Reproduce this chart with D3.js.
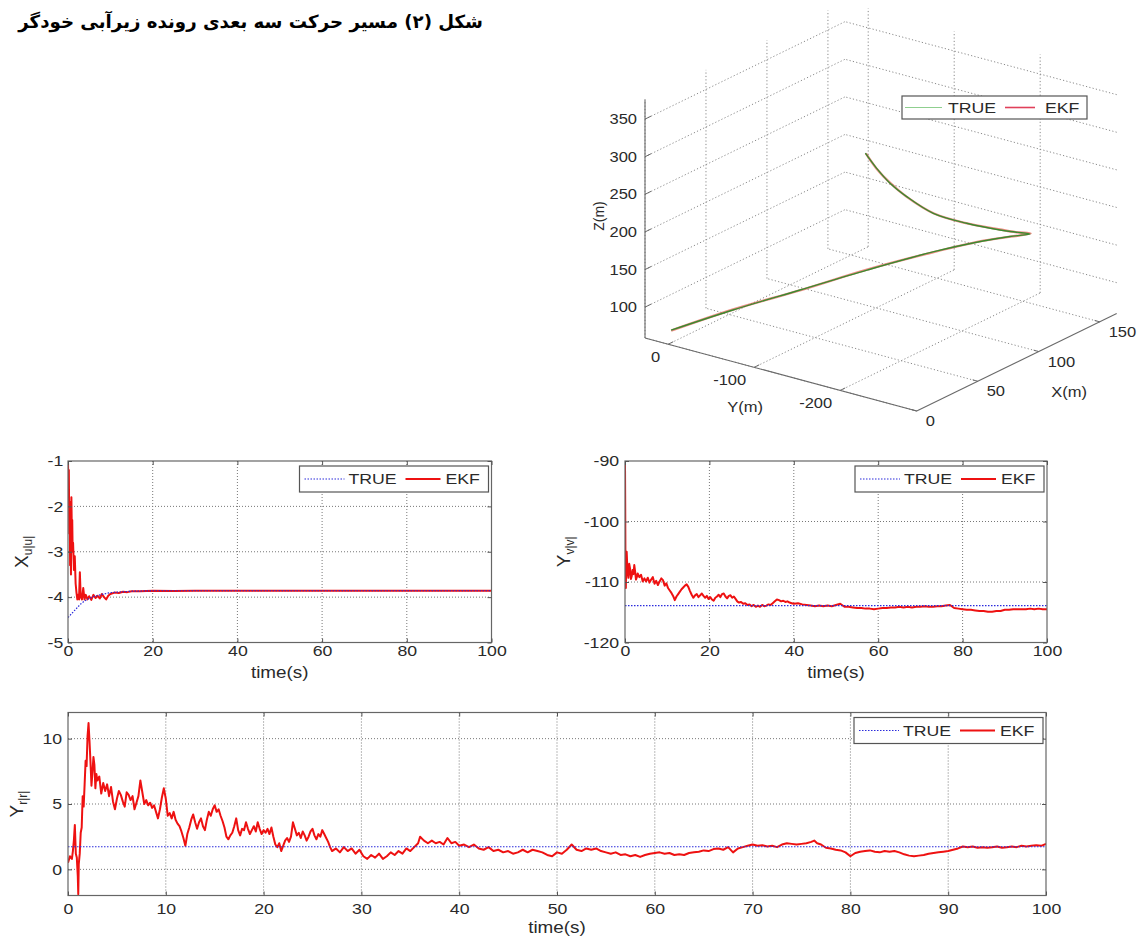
<!DOCTYPE html>
<html><head><meta charset="utf-8">
<script src="https://cdn.jsdelivr.net/npm/d3@7/dist/d3.min.js"></script>
<style>
html,body{margin:0;padding:0;background:#fff;}
svg{display:block;}
text{font-family:"Liberation Sans",Arial,sans-serif;fill:#2a2a2a;}
</style></head><body>
<svg id="chart" width="1145" height="938"></svg>
<script>
// ---------------- DATA ----------------
const titleText = "شکل (۲) مسیر حرکت سه بعدی رونده زیرآبی خودگر";
const legendLabels = ["TRUE", "EKF"];

// 3D trajectory [X, Y, Z]
const traj3dTrue = [[1,-2,77.5],[26.7,-37.4,94.9],[54.4,-76.1,111.5],[82.0,-114.9,128.1],[109.3,-152.9,142.3],[129.9,-181.9,149.4],[141.0,-197.4,151.4],[149.3,-209.0,151.8],[145,-197.7,154.3],[140,-187.3,157.8],[128,-165.6,169.5],[115,-145.2,186.8],[102,-132.7,215.4],[92,-127.5,239.5],[80,-129,269.2],[70,-130,297.6]];
const traj3dEkf = [[1,-2,77],[26.5,-37,95.3],[54.8,-76.5,111.2],[81.6,-114.4,128.5],[109.6,-153.3,142],[130.2,-182.2,149.8],[141.3,-197.8,151.1],[149.6,-209.3,152.1],[145.3,-198,154],[140.2,-187.0,158.2],[127.6,-165.2,169.9],[115.3,-145.6,186.4],[101.7,-132.4,215.9],[92.3,-127.8,239.1],[79.8,-128.7,269.6],[70.2,-130.3,297.2]];
const xDomain3d = [0, 164], yDomain3d = [-289, 27], zDomain3d = [59, 376];
const xTicks3d = [0, 50, 100, 150];
const yTicks3d = [-200, -100, 0];
const zTicks3d = [100, 150, 200, 250, 300, 350];

// X_u|u|
const xuuTrue = [[0,-4.45],[1,-4.35],[2,-4.25],[3,-4.15],[4,-4.08],[5,-4.03],[6,-3.99],[8,-3.94],[10,-3.9],[15,-3.87],[20,-3.86],[100,-3.86]];
const xuuEkf = [[0,-1.0],[0.1,-1.6],[0.2,-1.2],[0.3,-2.6],[0.4,-1.9],[0.5,-3.3],[0.6,-2.3],[0.7,-3.5],[0.8,-1.8],[0.9,-2.5],[1.0,-2.3],[1.1,-3.0],[1.2,-2.8],[1.4,-3.4],[1.6,-3.1],[1.8,-3.7],[2.0,-3.9],[2.2,-4.05],[2.4,-3.95],[2.6,-4.05],[2.8,-3.45],[3.0,-4.0],[3.3,-4.05],[3.6,-3.8],[3.9,-4.05],[4.2,-3.95],[4.6,-4.05],[5.0,-3.98],[5.5,-4.06],[6.0,-3.95],[6.5,-4.02],[7.0,-3.97],[7.5,-4.03],[8.0,-3.93],[8.5,-4.0],[9,-4.05],[9.5,-3.97],[10,-3.93],[11,-3.9],[12,-3.91],[13,-3.88],[14,-3.89],[15,-3.87],[17,-3.87],[20,-3.86],[25,-3.865],[30,-3.86],[40,-3.862],[50,-3.858],[60,-3.862],[70,-3.86],[80,-3.858],[90,-3.86],[100,-3.86]];
const xuuTicks = [-5, -4, -3, -2, -1];
const time20Ticks = [0, 20, 40, 60, 80, 100];

// Y_v|v|
const yvvTrue = [[0,-113.9],[100,-113.9]];
const yvvEkf = [[0,-90.5],[0.05,-97],[0.1,-105.5],[0.2,-111],[0.3,-106],[0.4,-105],[0.6,-108.5],[0.8,-109.3],[1.0,-107],[1.2,-107.8],[1.4,-109.5],[1.6,-109],[1.8,-108],[2.0,-108.7],[2.2,-107.2],[2.4,-108.3],[2.6,-109.6],[2.8,-109.2],[3.0,-108.6],[3.4,-109.2],[3.8,-108.8],[4.2,-109.9],[4.6,-109.4],[5.0,-109.9],[5.4,-109.3],[5.8,-110.1],[6.2,-109.6],[6.6,-109.2],[7.0,-110.3],[7.4,-109.8],[7.8,-110.5],[8.2,-109.9],[8.6,-109.4],[9.0,-109.7],[9.4,-110.6],[9.8,-110.2],[10.2,-111.0],[10.6,-111.4],[11.0,-111.8],[11.4,-112.3],[11.8,-113.0],[12.2,-112.4],[12.6,-112.0],[13.0,-111.6],[13.4,-111.2],[13.8,-110.9],[14.2,-110.6],[14.6,-110.4],[15.0,-110.8],[15.4,-111.5],[15.8,-112.1],[16.2,-112.6],[16.6,-112.2],[17.0,-112.0],[17.4,-112.5],[17.8,-112.2],[18.2,-111.9],[18.6,-112.3],[19.0,-112.6],[19.4,-112.3],[19.8,-112.8],[20.2,-112.5],[20.6,-112.9],[21.0,-113.1],[21.4,-112.6],[21.8,-112.4],[22.2,-112.1],[22.6,-112.5],[23.0,-112.0],[23.4,-111.9],[23.8,-112.4],[24.2,-112.7],[24.6,-112.3],[25.0,-112.2],[25.4,-112.6],[25.8,-112.4],[26.2,-112.8],[26.6,-113.2],[27.0,-113.4],[27.5,-113.3],[28.0,-113.6],[28.5,-113.5],[29.0,-113.8],[29.5,-113.7],[30.0,-114.0],[30.5,-113.8],[31.0,-114.1],[31.5,-113.9],[32.0,-114.1],[32.5,-113.8],[33.0,-114.0],[33.5,-113.9],[34.0,-113.7],[34.5,-113.8],[35.0,-113.5],[35.5,-113.2],[36.0,-112.9],[36.5,-113.0],[37.0,-113.2],[37.5,-113.1],[38.0,-113.3],[38.5,-113.2],[39.0,-113.4],[39.5,-113.5],[40.0,-113.6],[41,-113.5],[42,-113.7],[43,-113.8],[44,-113.9],[45,-114.0],[46,-113.9],[47,-114.0],[48,-113.9],[49,-114.0],[50,-113.8],[51,-113.6],[52,-114.1],[53,-114.1],[54,-114.2],[55,-114.3],[56,-114.3],[57,-114.4],[58,-114.4],[59,-114.5],[60,-114.4],[61,-114.3],[62,-114.3],[63,-114.2],[64,-114.2],[65,-114.1],[66,-114.2],[67,-114.1],[68,-114.2],[69,-114.1],[70,-114.1],[71,-114.0],[72,-114.1],[73,-114.1],[74,-114.0],[75,-114.0],[76,-113.9],[77,-113.8],[78,-114.3],[79,-114.4],[80,-114.5],[81,-114.6],[82,-114.6],[83,-114.7],[84,-114.8],[85,-114.8],[86,-114.9],[87,-114.9],[88,-114.8],[89,-114.8],[90,-114.6],[91,-114.6],[92,-114.5],[93,-114.5],[94,-114.5],[95,-114.5],[96,-114.4],[97,-114.5],[98,-114.4],[99,-114.5],[100,-114.5]];
const yvvTicks = [-120, -110, -100, -90];

// Y_r|r|
const yrrTrue = [[0,1.73],[100,1.73]];
const yrrEkf = [[0,0.5],[0.2,1.0],[0.4,0.8],[0.5,1.4],[0.6,2.2],[0.7,3.4],[0.8,1.2],[0.9,0.9],[1.0,-0.5],[1.05,-1.9],[1.1,0.4],[1.2,1.2],[1.3,2.8],[1.4,3.2],[1.5,5.6],[1.6,4.8],[1.7,6.5],[1.8,8.3],[1.9,7.9],[2.0,10.2],[2.1,11.2],[2.2,9.8],[2.3,8.2],[2.4,6.4],[2.5,7.4],[2.6,8.6],[2.7,8.0],[2.8,6.2],[2.9,7.3],[3.0,6.8],[3.2,7.1],[3.4,5.8],[3.6,6.6],[3.8,6.0],[4.0,6.5],[4.2,5.6],[4.4,6.3],[4.6,5.2],[4.8,4.6],[5.0,5.4],[5.2,6.0],[5.4,5.7],[5.6,5.2],[5.8,4.8],[6.0,5.9],[6.2,5.7],[6.4,5.3],[6.6,5.6],[6.8,4.6],[7.0,5.1],[7.2,5.6],[7.4,6.8],[7.6,5.9],[7.8,5.0],[8.0,5.3],[8.2,4.9],[8.4,5.1],[8.6,4.7],[8.8,4.9],[9.0,4.4],[9.2,3.9],[9.4,4.6],[9.6,5.5],[9.8,6.2],[10.0,5.4],[10.2,4.1],[10.4,4.3],[10.6,3.9],[10.8,4.4],[11.0,3.8],[11.2,3.5],[11.4,3.3],[11.6,2.9],[11.8,2.4],[12.0,1.8],[12.2,2.7],[12.4,3.2],[12.6,3.8],[12.8,4.2],[13.0,3.6],[13.2,3.1],[13.4,3.6],[13.6,3.9],[13.8,3.3],[14.0,3.0],[14.2,3.8],[14.4,4.4],[14.6,4.1],[14.8,4.6],[15.0,4.9],[15.2,4.4],[15.4,4.6],[15.6,4.1],[15.8,3.7],[16.0,3.2],[16.2,2.5],[16.4,2.3],[16.6,2.6],[16.8,2.8],[17.0,3.3],[17.2,3.9],[17.4,3.0],[17.6,2.6],[17.8,3.1],[18.0,3.0],[18.2,3.6],[18.4,3.1],[18.6,2.7],[18.8,3.0],[19.0,3.3],[19.2,2.9],[19.4,3.6],[19.6,3.1],[19.8,2.7],[20.0,3.0],[20.2,2.8],[20.4,3.1],[20.6,2.7],[20.8,3.2],[21.0,2.5],[21.2,1.9],[21.4,1.7],[21.6,2.0],[21.8,1.4],[22.0,1.8],[22.2,2.2],[22.4,2.4],[22.6,2.1],[22.8,2.5],[23.0,3.6],[23.2,3.1],[23.4,2.6],[23.6,2.8],[23.8,2.4],[24.0,2.9],[24.2,2.6],[24.4,2.2],[24.6,2.5],[24.8,2.9],[25.0,3.1],[25.2,2.6],[25.4,2.3],[25.6,2.7],[25.8,2.5],[26.0,3.0],[26.2,2.7],[26.4,2.4],[26.6,2.1],[26.8,1.7],[27.0,1.4],[27.4,1.6],[27.8,1.3],[28.2,1.7],[28.6,1.4],[29.0,1.6],[29.4,1.2],[29.8,1.5],[30.2,1.0],[30.6,0.8],[31.0,1.1],[31.4,0.9],[31.8,1.2],[32.2,0.8],[32.6,1.0],[33.0,1.3],[33.4,1.1],[33.8,1.4],[34.2,1.2],[34.6,1.6],[35.0,1.4],[35.4,1.7],[35.8,2.0],[36.0,2.5],[36.4,2.2],[36.8,2.0],[37.2,2.2],[37.6,2.0],[38.0,2.1],[38.4,1.9],[38.8,2.4],[39.2,2.0],[39.6,2.1],[40.0,1.8],[40.5,1.9],[41.0,1.7],[41.5,1.9],[42.0,1.6],[42.5,1.5],[43.0,1.7],[43.5,1.4],[44.0,1.5],[44.5,1.3],[45.0,1.4],[45.5,1.2],[46.0,1.3],[46.5,1.5],[47.0,1.3],[47.5,1.5],[48.0,1.4],[48.5,1.3],[49.0,1.1],[49.5,1.0],[50.0,1.3],[50.5,1.2],[51.0,1.5],[51.5,1.9],[52.0,1.5],[52.5,1.4],[53.0,1.6],[53.5,1.5],[54.0,1.6],[54.5,1.4],[55.0,1.3],[55.5,1.2],[56.0,1.3],[56.5,1.1],[57.0,1.15],[57.5,1.0],[58.0,1.1],[58.5,0.95],[59.0,1.1],[59.5,1.2],[60.0,1.25],[60.5,1.3],[61.0,1.2],[61.5,1.25],[62.0,1.1],[62.5,1.15],[63.0,1.1],[63.5,1.25],[64.0,1.3],[64.5,1.35],[65.0,1.45],[65.5,1.4],[66.0,1.55],[66.5,1.6],[67.0,1.5],[67.5,1.7],[68.0,1.3],[68.5,1.6],[69.0,1.7],[69.5,1.8],[70.0,1.9],[70.5,1.8],[71.0,1.85],[71.5,1.75],[72.0,1.8],[72.5,1.7],[73.0,1.9],[73.5,2.0],[74.0,1.95],[74.5,1.9],[75.0,1.95],[75.5,2.0],[76.0,2.1],[76.3,2.2],[76.6,2.0],[77.0,1.9],[77.5,1.65],[78.0,1.6],[78.5,1.5],[79.0,1.45],[79.5,1.3],[80.0,1.0],[80.5,1.25],[81.0,1.35],[81.5,1.4],[82.0,1.45],[82.5,1.35],[83.0,1.3],[83.5,1.4],[84.0,1.35],[84.5,1.4],[85.0,1.3],[85.5,1.15],[86.0,1.05],[86.5,1.0],[87.0,1.05],[87.5,1.1],[88.0,1.2],[88.5,1.25],[89.0,1.3],[89.5,1.35],[90.0,1.4],[90.5,1.5],[91.0,1.6],[91.5,1.75],[92.0,1.7],[92.5,1.75],[93.0,1.65],[93.5,1.7],[94.0,1.65],[94.5,1.7],[95.0,1.75],[95.5,1.65],[96.0,1.7],[96.5,1.75],[97.0,1.7],[97.5,1.8],[98.0,1.75],[98.5,1.8],[99.0,1.85],[99.5,1.8],[100.0,1.95]];
const yrrTicks = [0, 5, 10];
const time10Ticks = [0, 10, 20, 30, 40, 50, 60, 70, 80, 90, 100];

// ---------------- DRAWING ----------------
const svg = d3.select("#chart");
const RED = "#ee1111", BLUE = "#2b2bdc", FRAME = "#666", GRID = "#777";
const SX = 1.18; // horizontal text stretch of the original figure

// Title (right-aligned, RTL)
svg.append("text").attr("x", 483).attr("y", 28)
  .attr("direction", "rtl").attr("text-anchor", "start")
  .style("font-family", "'DejaVu Sans', sans-serif").style("font-weight", "bold").style("font-size", "18.2px")
  .style("fill", "#000").text(titleText);

function stretchText(sel, k) { sel.attr("transform", `scale(${k},1)`); }

function legend(g, L, T, W, H, items, fs) {
  g.append("rect").attr("x", L).attr("y", T).attr("width", W).attr("height", H)
    .attr("fill", "#fff").attr("stroke", "#555").attr("stroke-width", 1.2);
  items.forEach(it => {
    g.append("line").attr("x1", L + it.x0).attr("x2", L + it.x1).attr("y1", T + H / 2).attr("y2", T + H / 2)
      .attr("stroke", it.color).attr("stroke-width", it.w).attr("stroke-dasharray", it.dash || null);
    g.append("text").attr("transform", `translate(${L + it.tx},${T + H / 2 + fs * 0.36}) scale(${SX},1)`)
      .style("font-size", fs + "px").text(it.label);
  });
}

function tsPlot(o) {
  const g = svg.append("g");
  const x = d3.scaleLinear().domain(o.xDomain).range([o.left, o.right]);
  const y = d3.scaleLinear().domain(o.yDomain).range([o.bottom, o.top]);
  const id = "clip" + o.name;
  svg.append("clipPath").attr("id", id).append("rect")
    .attr("x", o.left).attr("y", o.top).attr("width", o.right - o.left).attr("height", o.bottom - o.top);
  // grid
  g.append("g").selectAll("line").data(o.xTicks.filter(v => v > o.xDomain[0] && v < o.xDomain[1])).join("line")
    .attr("x1", d => x(d)).attr("x2", d => x(d)).attr("y1", o.top).attr("y2", o.bottom)
    .attr("stroke", GRID).attr("stroke-dasharray", "1,2");
  g.append("g").selectAll("line").data(o.yTicks.filter(v => v > o.yDomain[0] && v < o.yDomain[1])).join("line")
    .attr("y1", d => y(d)).attr("y2", d => y(d)).attr("x1", o.left).attr("x2", o.right)
    .attr("stroke", GRID).attr("stroke-dasharray", "1,2");
  const line = d3.line().x(d => x(d[0])).y(d => y(d[1]));
  const cg = g.append("g").attr("clip-path", `url(#${id})`);
  cg.append("path").datum(o.ekf).attr("d", line).attr("fill", "none")
    .attr("stroke", RED).attr("stroke-width", 2).attr("stroke-linejoin", "round");
  cg.append("path").datum(o.tru).attr("d", line).attr("fill", "none")
    .attr("stroke", BLUE).attr("stroke-width", 1.2).attr("stroke-dasharray", "1.5,1.5");
  // frame
  g.append("rect").attr("x", o.left).attr("y", o.top).attr("width", o.right - o.left).attr("height", o.bottom - o.top)
    .attr("fill", "none").attr("stroke", FRAME).attr("stroke-width", 1.2);
  // axes
  const fmt = d => String(d);
  const axB = g.append("g").attr("transform", `translate(0,${o.bottom})`)
    .call(d3.axisBottom(x).tickValues(o.xTicks).tickFormat(fmt).tickSizeInner(-4).tickSizeOuter(0).tickPadding(o.xPad));
  const axL = g.append("g").attr("transform", `translate(${o.left},0)`)
    .call(d3.axisLeft(y).tickValues(o.yTicks).tickFormat(fmt).tickSizeInner(-4).tickSizeOuter(0).tickPadding(o.yPad));
  const axT = g.append("g").attr("transform", `translate(0,${o.top})`)
    .call(d3.axisTop(x).tickValues(o.xTicks).tickFormat("").tickSizeInner(-4).tickSizeOuter(0));
  const axR = g.append("g").attr("transform", `translate(${o.right},0)`)
    .call(d3.axisRight(y).tickValues(o.yTicks).tickFormat("").tickSizeInner(-4).tickSizeOuter(0));
  [axB, axL, axT, axR].forEach(a => {
    a.attr("font-family", null).attr("font-size", null).attr("color", "#555");
    a.select(".domain").remove();
    a.selectAll("text").style("font-size", "15px").style("fill", "#2a2a2a").call(stretchText, SX);
  });
  // labels
  g.append("text").attr("transform", `translate(${(o.left + o.right) / 2},${o.xLabY}) scale(${SX},1)`)
    .attr("text-anchor", "middle").style("font-size", "16px").text("time(s)");
  const yl = g.append("text").attr("transform", `translate(${o.yLabX},${(o.top + o.bottom) / 2}) rotate(-90)`)
    .attr("text-anchor", "middle");
  yl.append("tspan").style("font-size", "19px").text(o.yMain);
  yl.append("tspan").attr("dy", 4).style("font-size", "12px").text(o.ySub);
  // legend
  legend(g, o.right - 192, o.top + 5, 189, 26, [
    { label: legendLabels[0], color: BLUE, w: 1.2, dash: "1.5,1.5", x0: 5, x1: 45, tx: 49 },
    { label: legendLabels[1], color: RED, w: 2, x0: 106, x1: 141, tx: 146 }
  ], 15);
}

tsPlot({ name: "a", left: 68, right: 491.5, top: 461, bottom: 642.5, xDomain: [0, 100], yDomain: [-5, -1],
  xTicks: time20Ticks, yTicks: xuuTicks, tru: xuuTrue, ekf: xuuEkf, xPad: 3, yPad: 4,
  xLabY: 678, yLabX: 28, yMain: "X", ySub: "u|u|" });
tsPlot({ name: "b", left: 625, right: 1047, top: 461, bottom: 642.5, xDomain: [0, 100], yDomain: [-120, -90],
  xTicks: time20Ticks, yTicks: yvvTicks, tru: yvvTrue, ekf: yvvEkf, xPad: 3, yPad: 5,
  xLabY: 678, yLabX: 570, yMain: "Y", ySub: "v|v|" });
tsPlot({ name: "c", left: 68, right: 1046, top: 712.5, bottom: 895.5, xDomain: [0, 100], yDomain: [-2, 12],
  xTicks: time10Ticks, yTicks: yrrTicks, tru: yrrTrue, ekf: yrrEkf, xPad: 8, yPad: 5,
  xLabY: 933, yLabX: 23, yMain: "Y", ySub: "r|r|" });

// ---------------- 3D PLOT ----------------
const F0 = [916.7, 411], VX = [200, -97.5], VY = [-271.7, -73], VZ = [0, -238.4];
const sx3 = d3.scaleLinear().domain(xDomain3d).range([0, 1]);
const sy3 = d3.scaleLinear().domain(yDomain3d).range([0, 1]);
const sz3 = d3.scaleLinear().domain(zDomain3d).range([0, 1]);
function proj(X, Y, Z) {
  const a = sx3(X), b = sy3(Y), c = sz3(Z);
  return [F0[0] + a * VX[0] + b * VY[0] + c * VZ[0], F0[1] + a * VX[1] + b * VY[1] + c * VZ[1]];
}
const [x0, x1] = xDomain3d, [y0, y1] = yDomain3d, [z0, z1] = zDomain3d;
const g3 = svg.append("g");
const segs = [];
xTicks3d.forEach(X => { segs.push([proj(X, y1, z0), proj(X, y1, z1)]); segs.push([proj(X, y0, z0), proj(X, y1, z0)]); });
yTicks3d.forEach(Y => { segs.push([proj(x1, Y, z0), proj(x1, Y, z1)]); segs.push([proj(x0, Y, z0), proj(x1, Y, z0)]); });
zTicks3d.forEach(Z => { segs.push([proj(x0, y1, Z), proj(x1, y1, Z)]); segs.push([proj(x1, y0, Z), proj(x1, y1, Z)]); });
g3.append("g").selectAll("line").data(segs).join("line")
  .attr("x1", d => d[0][0]).attr("y1", d => d[0][1]).attr("x2", d => d[1][0]).attr("y2", d => d[1][1])
  .attr("stroke", "#8a8a8a").attr("stroke-width", 1).attr("stroke-dasharray", "1.2,2.2");
// axes lines
const axes3 = [[proj(x0, y1, z0), proj(x0, y1, z1)], [proj(x0, y0, z0), proj(x0, y1, z0)], [proj(x0, y0, z0), proj(x1, y0, z0)]];
g3.append("g").selectAll("line").data(axes3).join("line")
  .attr("x1", d => d[0][0]).attr("y1", d => d[0][1]).attr("x2", d => d[1][0]).attr("y2", d => d[1][1])
  .attr("stroke", "#6a6a6a").attr("stroke-width", 1.1);
// tick marks
const tickSegs = [];
zTicks3d.forEach(Z => { const p = proj(x0, y1, Z); tickSegs.push([p, [p[0] + 6, p[1] - 3]]); });
yTicks3d.forEach(Y => { const p = proj(x0, Y, z0); tickSegs.push([p, [p[0] + 5, p[1] - 2.5]]); });
xTicks3d.forEach(X => { const p = proj(X, y0, z0); tickSegs.push([p, [p[0] - 5, p[1] - 1.4]]); });
g3.append("g").selectAll("line").data(tickSegs).join("line")
  .attr("x1", d => d[0][0]).attr("y1", d => d[0][1]).attr("x2", d => d[1][0]).attr("y2", d => d[1][1])
  .attr("stroke", "#6a6a6a");
// tick labels
const fs3 = 14;
zTicks3d.forEach(Z => { const p = proj(x0, y1, Z);
  g3.append("text").attr("transform", `translate(${p[0] - 8},${p[1] + 5}) scale(${SX},1)`).attr("text-anchor", "end")
    .style("font-size", fs3 + "px").text(Z); });
yTicks3d.forEach(Y => { const p = proj(x0, Y, z0);
  g3.append("text").attr("transform", `translate(${p[0] - 8},${p[1] + 18}) scale(${SX},1)`).attr("text-anchor", "end")
    .style("font-size", fs3 + "px").text(String(Y)); });
xTicks3d.forEach(X => { const p = proj(X, y0, z0);
  g3.append("text").attr("transform", `translate(${p[0] + 9},${p[1] + 15}) scale(${SX},1)`).attr("text-anchor", "start")
    .style("font-size", fs3 + "px").text(X); });
// axis labels
g3.append("text").attr("transform", `translate(1069,397) scale(${SX},1)`).attr("text-anchor", "middle").style("font-size", "14px").text("X(m)");
g3.append("text").attr("transform", `translate(745,412) scale(${SX},1)`).attr("text-anchor", "middle").style("font-size", "14px").text("Y(m)");
g3.append("text").attr("transform", `translate(604,216) rotate(-90)`).attr("text-anchor", "middle").style("font-size", "14px").text("Z(m)");
// trajectory
const line3 = d3.line().x(d => proj(d[0], d[1], d[2])[0]).y(d => proj(d[0], d[1], d[2])[1]).curve(d3.curveCatmullRom.alpha(0.5));
g3.append("path").datum(traj3dEkf).attr("d", line3).attr("fill", "none").attr("stroke", "#e04030").attr("stroke-width", 2.4).attr("stroke-opacity", 0.6);
g3.append("path").datum(traj3dTrue).attr("d", line3).attr("fill", "none").attr("stroke", "#3a8a30").attr("stroke-width", 1.4);
// legend
legend(g3, 902, 96, 185, 23, [
  { label: legendLabels[0], color: "#8fcf8f", w: 1.2, x0: 3, x1: 40, tx: 46 },
  { label: legendLabels[1], color: "#e0405a", w: 1.6, x0: 103, x1: 133, tx: 143 }
], 15);
</script>
</body></html>
